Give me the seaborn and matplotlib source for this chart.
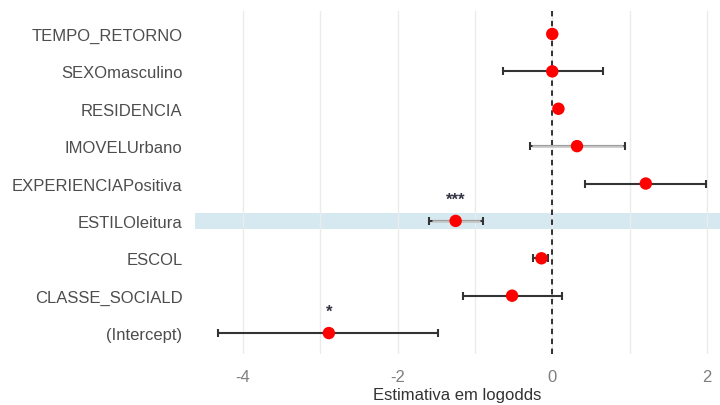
import numpy as np
import pandas as pd
import matplotlib
matplotlib.use("Agg")
import matplotlib.pyplot as plt
import seaborn as sns

# Coefficients (log-odds)
terms = ["TEMPO_RETORNO", "SEXOmasculino", "RESIDENCIA", "IMOVELUrbano",
         "EXPERIENCIAPositiva", "ESTILOleitura", "ESCOL", "CLASSE_SOCIALD",
         "(Intercept)"]
estimates = [0.0, 0.0, 0.08, 0.32, 1.21, -1.25, -0.14, -0.52, -2.89]
lower = [-0.02, -0.64, 0.05, -0.29, 0.43, -1.59, -0.25, -1.16, -4.32]
upper = [0.02, 0.66, 0.11, 0.94, 1.99, -0.90, -0.06, 0.12, -1.48]
stars = ["", "", "", "", "", "***", "", "", "*"]
light_bar = [False, False, False, True, False, True, False, False, False]
highlight = "ESTILOleitura"

sns.set_theme(style="white")
plt.rcParams['font.family'] = ['Liberation Sans', 'DejaVu Sans']

df = pd.DataFrame({"term": terms, "estimate": estimates, "lower": lower,
                   "upper": upper, "stars": stars, "light": light_bar})
df["pos"] = np.arange(len(df))

fig = plt.figure(figsize=(7.2, 4.06), dpi=100)
ax = fig.add_axes([0.271, 0.1256, 0.729, 0.8444])

# highlighted row
hl = df.loc[df["term"] == highlight, "pos"].iloc[0]
ax.axhspan(hl - 0.22, hl + 0.22, color="#d6e9f0", zorder=0, lw=0)

# vertical grid at every integer
for gx in range(-4, 3):
    ax.axvline(gx, color="#ebebeb", lw=1.0, zorder=0.5)

ax.axvline(0, color="#222222", lw=1.3, ls=(0, (3, 2.5)), zorder=1)

# confidence intervals
ax.errorbar(df["estimate"], df["pos"],
            xerr=[df["estimate"] - df["lower"], df["upper"] - df["estimate"]],
            fmt="none", ecolor="#333333", elinewidth=1.5, capsize=3,
            capthick=1.5, zorder=2)
light = df[df["light"]]
ax.hlines(light["pos"], light["lower"] + 0.03, light["upper"] - 0.03,
          color="#c4c4c4", lw=1.8, zorder=2.2)

sns.scatterplot(data=df, x="estimate", y="pos", color="#ff0000", s=80,
                edgecolor="none", ax=ax, zorder=3, legend=False)

for _, r in df[df["stars"] != ""].iterrows():
    ax.text(r["estimate"], r["pos"] - 0.58, r["stars"], ha="center",
            va="center", fontsize=12, color="#333344", fontweight="bold")

ax.set_xlim(-4.62, 2.17)
ax.set_ylim(8.56, -0.61)
ax.set_xticks([-4, -2, 0, 2])
ax.set_xticklabels(["-4", "-2", "0", "2"])
ax.set_yticks(df["pos"])
ax.set_yticklabels(df["term"])
ax.tick_params(axis="x", colors="#7f7f7f", labelsize=12, length=0, pad=11)
ax.tick_params(axis="y", colors="#4d4d4d", labelsize=12, length=0, pad=9)
ax.set_xlabel("Estimativa em logodds", fontsize=12, color="#333333", labelpad=2)
ax.set_ylabel("")
for s in ax.spines.values():
    s.set_visible(False)

fig.savefig("out.png", dpi=100)
